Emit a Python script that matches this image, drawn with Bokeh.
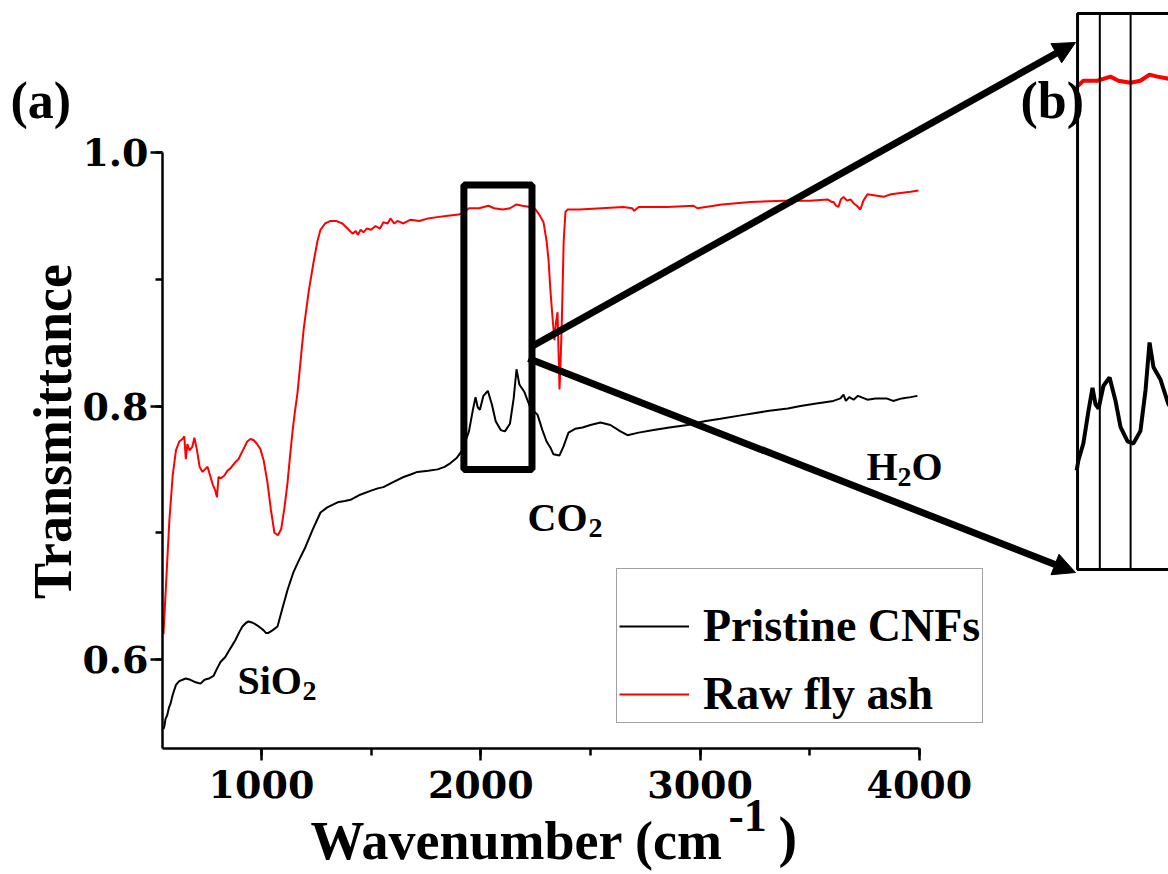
from bokeh.plotting import figure
from bokeh.models import (Range1d, LinearAxis, SingleIntervalTicker, NumeralTickFormatter, Arrow,
                          NormalHead, Label, Legend, LegendItem)
from bokeh.embed import file_html
from bokeh.resources import INLINE
import math

# ---------------- data ----------------
wn_raw = [553, 565, 580, 595, 610, 625, 640, 648, 655, 662, 672, 685, 694, 705, 718, 731, 742, 754,
          766, 778, 790, 797, 804, 815, 830, 845, 859, 877, 895, 915, 935, 950, 965, 980, 995, 1010,
          1027, 1043, 1059, 1075, 1090, 1105, 1119, 1130, 1141, 1152, 1164, 1178, 1192, 1215, 1237,
          1255, 1269, 1290, 1315, 1340, 1369, 1392, 1415, 1430, 1440, 1452, 1465, 1480, 1500, 1520,
          1540, 1556, 1575, 1588, 1605, 1620, 1647, 1680, 1720, 1760, 1800, 1850, 1900, 1924, 1946,
          1992, 2035, 2061, 2101, 2133, 2163, 2189, 2225, 2250, 2270, 2286, 2300, 2309, 2318, 2327,
          2336, 2343, 2350, 2355, 2359, 2364, 2370, 2378, 2386, 2395, 2450, 2550, 2650, 2690, 2700,
          2720, 2850, 2970, 2988, 3100, 3230, 3380, 3500, 3581, 3600, 3608, 3620, 3631, 3642, 3654,
          3670, 3686, 3700, 3715, 3731, 3745, 3763, 3800, 3836, 3870, 3914, 3960, 3996]
t_raw = [0.620, 0.660, 0.710, 0.745, 0.765, 0.772, 0.774, 0.776, 0.758, 0.770, 0.765, 0.768, 0.775,
         0.766, 0.752, 0.748, 0.750, 0.752, 0.745, 0.738, 0.733, 0.728, 0.744, 0.743, 0.745, 0.749,
         0.751, 0.755, 0.758, 0.765, 0.772, 0.774, 0.773, 0.770, 0.766, 0.757, 0.740, 0.718, 0.700,
         0.698, 0.703, 0.720, 0.740, 0.760, 0.779, 0.795, 0.810, 0.835, 0.860, 0.890, 0.913, 0.930,
         0.939, 0.944, 0.946, 0.946, 0.944, 0.940, 0.936, 0.938, 0.935, 0.939, 0.937, 0.940, 0.939,
         0.942, 0.940, 0.945, 0.944, 0.948, 0.944, 0.946, 0.944, 0.947, 0.946, 0.948, 0.949, 0.950,
         0.951, 0.953, 0.956, 0.956, 0.958, 0.956, 0.955, 0.956, 0.959, 0.958, 0.957, 0.955, 0.950,
         0.945, 0.930, 0.915, 0.890, 0.870, 0.852, 0.866, 0.874, 0.840, 0.813, 0.835, 0.870, 0.930,
         0.953, 0.955, 0.955, 0.956, 0.957, 0.956, 0.954, 0.957, 0.957, 0.958, 0.956, 0.959, 0.961,
         0.962, 0.962, 0.963, 0.961, 0.961, 0.958, 0.957, 0.963, 0.965, 0.962, 0.963, 0.960, 0.958,
         0.955, 0.962, 0.967, 0.966, 0.965, 0.967, 0.968, 0.969, 0.970]

wn_cnf = [553, 558, 562, 570, 578, 585, 595, 610, 625, 640, 655, 676, 700, 722, 740, 760, 781, 795,
          813, 835, 859, 880, 900, 913, 930, 941, 960, 980, 995, 1010, 1020, 1032, 1050, 1073, 1095,
          1119, 1146, 1170, 1201, 1235, 1269, 1300, 1347, 1380, 1406, 1450, 1497, 1530, 1556, 1600,
          1648, 1680, 1711, 1760, 1803, 1835, 1862, 1890, 1907, 1924, 1930, 1946, 1963, 1976, 1986,
          1996, 2012, 2032, 2051, 2068, 2091, 2110, 2133, 2150, 2163, 2176, 2199, 2225, 2259, 2281,
          2300, 2318, 2331, 2359, 2377, 2400, 2430, 2464, 2500, 2546, 2591, 2637, 2669, 2720, 2788,
          2860, 2943, 3020, 3093, 3200, 3307, 3400, 3458, 3530, 3608, 3640, 3654, 3665, 3680, 3700,
          3720, 3763, 3800, 3850, 3880, 3920, 3960, 3991]
t_cnf = [0.545, 0.548, 0.553, 0.556, 0.562, 0.565, 0.572, 0.580, 0.583, 0.584, 0.585, 0.584, 0.582,
         0.581, 0.584, 0.585, 0.587, 0.592, 0.598, 0.602, 0.609, 0.615, 0.622, 0.626, 0.629, 0.630,
         0.629, 0.627, 0.625, 0.623, 0.621, 0.621, 0.623, 0.626, 0.640, 0.655, 0.669, 0.678, 0.689,
         0.703, 0.716, 0.720, 0.724, 0.725, 0.726, 0.730, 0.733, 0.735, 0.736, 0.740, 0.744, 0.746,
         0.748, 0.749, 0.750, 0.752, 0.755, 0.759, 0.763, 0.767, 0.772, 0.780, 0.796, 0.807, 0.799,
         0.797, 0.808, 0.812, 0.801, 0.788, 0.781, 0.780, 0.786, 0.806, 0.829, 0.817, 0.811, 0.799,
         0.793, 0.781, 0.772, 0.767, 0.762, 0.761, 0.768, 0.779, 0.782, 0.783, 0.785, 0.787, 0.785,
         0.780, 0.777, 0.779, 0.781, 0.783, 0.785, 0.788, 0.790, 0.793, 0.796, 0.798, 0.800, 0.802,
         0.804, 0.806, 0.809, 0.804, 0.807, 0.805, 0.808, 0.805, 0.806, 0.806, 0.804, 0.806, 0.807,
         0.808]

x_ticks_interval = 1000
y_ticks_interval = 0.2
series_names = ["Pristine CNFs", "Raw fly ash"]

# ---------------- layout constants ----------------
W, H = 1168, 874
AX_X, AX_Y = 548.6, 0.5298      # where the axes sit (data units)
X0, X1 = -190.1, 5136.0          # frame covers the whole canvas
Y0, Y1 = 0.43040, 1.1199
# inset coordinate system (zoomed view of the boxed region)
IX0, IX1 = -1604.35, 2225.2
IY0, IY1 = 0.57088, 0.99494
INSET_LEFT, INSET_RIGHT = 1927, 2400
INSET_TOP, INSET_BOTTOM = 0.9886, 0.7189


def dx(px):
    return X0 + px * (X1 - X0) / W


def dy(py):
    return Y1 - py * (Y1 - Y0) / H


SERIF = "Liberation Serif"

p = figure(width=W, height=H, x_range=Range1d(X0, X1), y_range=Range1d(Y0, Y1),
           x_axis_location=None, y_axis_location=None, min_border=0,
           output_backend="svg", toolbar_location=None)
p.extra_x_ranges = {"inset": Range1d(IX0, IX1)}
p.extra_y_ranges = {"inset": Range1d(IY0, IY1)}
p.outline_line_color = None
p.xgrid.grid_line_color = None
p.ygrid.grid_line_color = None
p.background_fill_color = "white"
p.border_fill_color = "white"

xax = LinearAxis(fixed_location=AX_Y,
                 ticker=SingleIntervalTicker(interval=x_ticks_interval, num_minor_ticks=2),
                 formatter=NumeralTickFormatter(format="0"), bounds=(AX_X, 4000))
yax = LinearAxis(fixed_location=AX_X,
                 ticker=SingleIntervalTicker(interval=y_ticks_interval, num_minor_ticks=2),
                 formatter=NumeralTickFormatter(format="0.0"), bounds=(AX_Y, 1.0))
for ax in (xax, yax):
    ax.axis_line_width = 2.5
    ax.axis_line_color = "black"
    ax.major_tick_line_width = 2.5
    ax.minor_tick_line_width = 2.5
    ax.major_tick_in = 0
    ax.major_tick_out = 12
    ax.minor_tick_in = 0
    ax.minor_tick_out = 7
    ax.major_label_text_font = "DejaVu Serif"
    ax.major_label_text_font_style = "bold"
    ax.major_label_text_font_size = "38px"
    ax.major_label_text_color = "black"
xax.major_label_standoff = 10
yax.major_label_standoff = 2
p.add_layout(xax, "below")
p.add_layout(yax, "left")

# main curves
r_cnf = p.line(wn_cnf, t_cnf, line_color="black", line_width=2)
r_raw = p.line(wn_raw, t_raw, line_color="#ff0000", line_width=2)

# zoom box in main plot
p.quad(left=[1923], right=[2233.5], top=[0.9744], bottom=[0.7499],
       fill_alpha=0, line_color="black", line_width=7)

# inset: same data through inset ranges
ins_cnf = [i for i, w in enumerate(wn_cnf) if 1920 <= w <= 2260]
ins_raw = [i for i, w in enumerate(wn_raw) if 1920 <= w <= 2260]
p.line([wn_cnf[i] for i in ins_cnf], [t_cnf[i] for i in ins_cnf], line_color="black", line_width=4,
       x_range_name="inset", y_range_name="inset")
p.line([wn_raw[i] for i in ins_raw], [t_raw[i] for i in ins_raw], line_color="#ff0000", line_width=4,
       x_range_name="inset", y_range_name="inset")
p.quad(left=[INSET_LEFT], right=[INSET_RIGHT], top=[INSET_TOP], bottom=[INSET_BOTTOM],
       fill_alpha=0, line_color="black", line_width=3, x_range_name="inset", y_range_name="inset")
p.segment(x0=[2000, 2101], y0=[INSET_BOTTOM] * 2, x1=[2000, 2101], y1=[INSET_TOP] * 2,
          line_color="black", line_width=2, x_range_name="inset", y_range_name="inset")

# arrows
for (sx0, sy0, sx1, sy1) in [(533, 345, 1075, 42), (528, 358, 1075, 572)]:
    p.add_layout(Arrow(end=NormalHead(size=22, fill_color="black", line_color="black", line_width=1),
                       x_start=dx(sx0), y_start=dy(sy0), x_end=dx(sx1), y_end=dy(sy1),
                       line_width=7, line_color="black"))

# legend
legend = Legend(items=[LegendItem(label=series_names[0], renderers=[r_cnf]),
                       LegendItem(label=series_names[1], renderers=[r_raw])],
                location=(616, 874 - 723), orientation="vertical")
legend.title = " "
legend.title_text_font_size = "20px"
legend.title_standoff = 5
legend.label_text_font = SERIF
legend.label_text_font_style = "bold"
legend.label_text_font_size = "46px"
legend.label_text_color = "black"
legend.glyph_width = 70
legend.glyph_height = 50
legend.label_height = 50
legend.label_standoff = 14
legend.spacing = 15
legend.padding = 2
legend.margin = 0
legend.border_line_color = "#444444"
legend.border_line_width = 1.5
legend.background_fill_alpha = 1
p.add_layout(legend)


def lab(text, px, py, size, angle=0.0, align="left", baseline="alphabetic"):
    p.add_layout(Label(x=dx(px), y=dy(py), text=text, text_font=SERIF, text_font_style="bold",
                       text_font_size=f"{size}px", text_color="black", angle=angle,
                       text_align=align, text_baseline=baseline))


lab("(a)", 10, 100, 52)
lab("(b)", 1020, 100, 52)
lab("SiO", 237, 680, 40)
lab("2", 302, 690, 28)
lab("CO", 527, 517, 40)
lab("2", 588, 527, 28)
lab("H", 866, 466, 40)
lab("2", 897, 476, 28)
lab("O", 911, 466, 40)
lab("Transmittance", 52, 431, 54, angle=math.pi / 2, align="center", baseline="middle")
lab("Wavenumber (cm", 310, 840, 54)
lab("-1", 728, 815, 46)
lab(")", 778, 836, 56)

open("out.html", "w").write(file_html(p, INLINE))
